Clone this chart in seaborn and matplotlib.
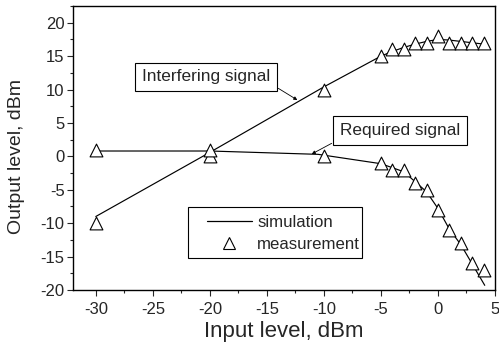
import numpy as np
import pandas as pd
import matplotlib
matplotlib.use("Agg")
import matplotlib.pyplot as plt
from matplotlib.lines import Line2D
from matplotlib.patches import Rectangle
from matplotlib.ticker import MultipleLocator
import seaborn as sns

# ---- data ----
meas_x = [-30, -20, -10, -5, -4, -3, -2, -1, 0, 1, 2, 3, 4]
interf_meas_y = [-10, 0, 10, 15, 16, 16, 17, 17, 18, 17, 17, 17, 17]
req_meas_y = [1, 1, 0, -1, -2, -2, -4, -5, -8, -11, -13, -16, -17]

interf_sim_x = [-30, -20, -10, -5, -4, -3, -2, -1, 0, 1, 2, 3, 4]
interf_sim_y = [-9.0, 0.6, 10.4, 15.0, 15.7, 16.3, 16.8, 17.2, 17.5, 17.4, 17.2, 17.0, 16.8]

req_sim_x = [-30, -20, -10.5, -5, -3, -2, -1, 0, 1, 2, 3, 4.1]
req_sim_y = [0.8, 0.8, 0.3, -1.1, -2.3, -3.8, -5.3, -7.8, -10.9, -13.2, -16.1, -19.3]

x_ticks = [-30, -25, -20, -15, -10, -5, 0, 5]
y_ticks = [-20, -15, -10, -5, 0, 5, 10, 15, 20]

sim = pd.concat([
    pd.DataFrame({"x": interf_sim_x, "y": interf_sim_y, "sig": "Interfering"}),
    pd.DataFrame({"x": req_sim_x, "y": req_sim_y, "sig": "Required"}),
])
meas = pd.concat([
    pd.DataFrame({"x": meas_x, "y": interf_meas_y, "sig": "Interfering"}),
    pd.DataFrame({"x": meas_x, "y": req_meas_y, "sig": "Required"}),
])

sns.set_style("ticks")
plt.rcParams["font.family"] = ["Liberation Sans", "DejaVu Sans"]

fig = plt.figure(figsize=(4.99, 3.49), dpi=100)
ax = fig.add_axes([73/499, 1-290/349, (495-73)/499, (290-6)/349])

sns.lineplot(data=sim, x="x", y="y", units="sig", estimator=None, sort=False,
             color="black", lw=0.85, ax=ax, legend=False)
sns.scatterplot(data=meas, x="x", y="y", marker="^", s=85, facecolor="white",
                edgecolor="black", linewidth=0.8, ax=ax, legend=False, zorder=3)

ax.set_xlim(-32, 5)
ax.set_ylim(-20, 22.5)
ax.set_xticks(x_ticks)
ax.set_yticks(y_ticks)
ax.set_xticklabels([str(v) for v in x_ticks])
ax.set_yticklabels([str(v) for v in y_ticks])
ax.xaxis.set_minor_locator(MultipleLocator(2.5))
ax.yaxis.set_minor_locator(MultipleLocator(2.5))
ax.tick_params(which="major", direction="out", length=4, width=0.8, labelsize=12, pad=2)
ax.tick_params(axis="x", which="major", pad=5)
ax.tick_params(which="minor", direction="out", length=2.5, width=0.8)
for s in ax.spines.values():
    s.set_linewidth(1.0)
    s.set_color("black")
    s.set_visible(True)

ax.set_xlabel("Input level, dBm", fontsize=16)
ax.set_ylabel("Output level, dBm", fontsize=14)
ax.xaxis.set_label_coords(0.5, -0.108)
ax.yaxis.set_label_coords(-0.114, 0.469)

box = dict(boxstyle="square,pad=0.4", fc="white", ec="black", lw=0.8)
ax.text(-20.34, 11.88, "Interfering signal", fontsize=12.4, ha="center", va="center", bbox=box, zorder=4)
ax.annotate("", xy=(-12.33, 8.43), xytext=(-14.0, 10.18),
            arrowprops=dict(arrowstyle="-|>", lw=0.6, color="black", mutation_scale=5,
                            shrinkA=0, shrinkB=0))
ax.text(-3.36, 3.84, "Required signal", fontsize=12.4, ha="center", va="center", bbox=box, zorder=4)
ax.annotate("", xy=(-11.07, 0.35), xytext=(-9.32, 1.95),
            arrowprops=dict(arrowstyle="-|>", lw=0.6, color="black", mutation_scale=5,
                            shrinkA=0, shrinkB=0))

# legend frame drawn as a box in axes coordinates
ax.add_patch(Rectangle((0.2718, 0.1116), 0.4123, 0.1796, transform=ax.transAxes,
                       fc="white", ec="black", lw=0.8, zorder=4))
handles = [
    Line2D([], [], color="black", lw=0.9),
    Line2D([], [], marker="^", ls="none", markerfacecolor="white",
           markeredgecolor="black", markersize=9, markeredgewidth=0.8),
]
leg = ax.legend(handles, ["simulation", "measurement"], loc="center left",
                bbox_to_anchor=(0.3168, 0.1995), fontsize=12.1, frameon=False,
                handlelength=2.7, handletextpad=0.3,
                labelspacing=0.45, borderpad=0, borderaxespad=0)
leg.set_zorder(5)

fig.savefig("out.png", dpi=100)
